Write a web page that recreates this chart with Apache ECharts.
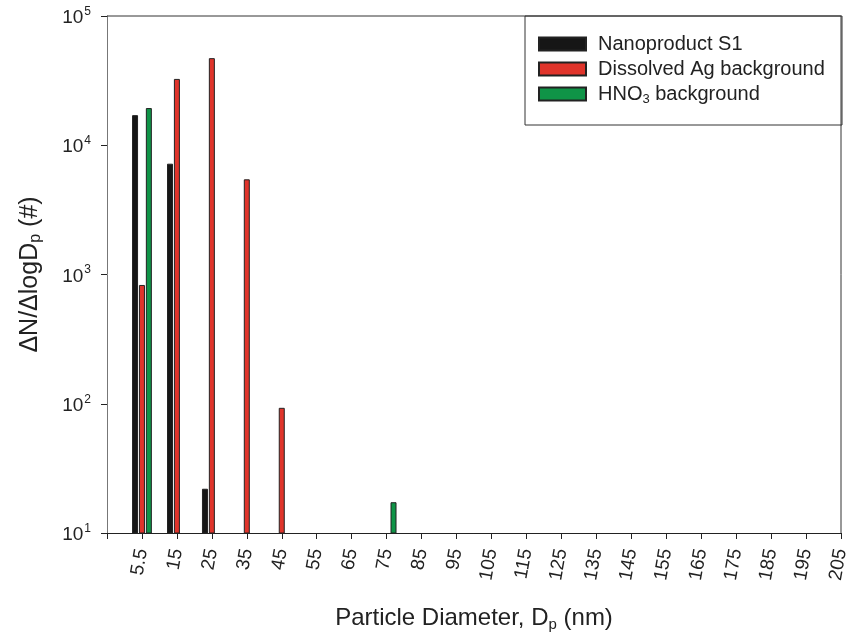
<!DOCTYPE html>
<html>
<head>
<meta charset="utf-8">
<script src="https://cdn.jsdelivr.net/npm/echarts@6/dist/echarts.min.js"></script>
<style>html,body{margin:0;padding:0;background:#fff;}#c{width:851px;height:640px;}</style>
</head>
<body>
<div id="c"></div>
<script>
const sizeLabels = ['5.5','15','25','35','45','55','65','75','85','95','105','115','125','135','145','155','165','175','185','195','205'];
const nanoproductS1 = [17100, 7200, 22, null, null, null, null, null, null, null, null, null, null, null, null, null, null, null, null, null, null];
const dissolvedAg = [830, 32600, 47200, 5450, 93, null, null, null, null, null, null, null, null, null, null, null, null, null, null, null, null];
const hno3Background = [19400, null, null, null, null, null, null, 17.3, null, null, null, null, null, null, null, null, null, null, null, null, null];
const yTickValues = [10, 100, 1000, 10000, 100000];

const chart = echarts.init(document.getElementById('c'), null, {renderer: 'canvas'});
const font = 'Liberation Sans, Arial, sans-serif';
const axisCats = [''].concat(sizeLabels);
const pad = arr => [null].concat(arr);

function mkSeries(name, data, color) {
  return {
    name: name, type: 'bar', data: pad(data), barWidth: 6, barGap: '15%',
    itemStyle: {color: color, borderColor: '#222', borderWidth: 1},
    clip: true
  };
}

chart.setOption({
  animation: false,
  backgroundColor: '#fff',
  grid: {left: 107, right: 10, top: 16, bottom: 107, show: false, containLabel: false, outerBoundsMode: 'none'},
  xAxis: {
    type: 'category', data: axisCats, boundaryGap: false,
    axisLine: {lineStyle: {color: '#222', width: 1}},
    axisTick: {length: 6, lineStyle: {color: '#222'}, interval: 0},
    axisLabel: {interval: 0, rotate: 80, fontFamily: font, fontSize: 19, color: '#222', margin: 16, hideOverlap: false},
    name: 'Particle Diameter, D{sub|p} (nm)', nameLocation: 'middle', nameGap: 72,
    nameTextStyle: {fontFamily: font, fontSize: 24, color: '#222',
      rich: {sub: {fontSize: 15, fontFamily: font, color: '#222', padding: [12, 0, 0, 0]}}},
    splitLine: {show: false}
  },
  yAxis: {
    type: 'log', logBase: 10, min: 10, max: 100000,
    axisLine: {show: true, lineStyle: {color: '#777', width: 1}},
    axisTick: {show: true, length: 6, inside: false, lineStyle: {color: '#222'}},
    minorTick: {show: false},
    splitLine: {show: false},
    axisLabel: {
      fontFamily: font, fontSize: 19, color: '#222', margin: 16,
      formatter: function (v) {
        const e = Math.round(Math.log10(v));
        return '{b|10}{sup|' + e + '}';
      },
      rich: {
        b: {fontFamily: font, fontSize: 19, color: '#222', padding: [4, 0, 0, 0]},
        sup: {fontFamily: font, fontSize: 12, color: '#222', padding: [0, 0, 9, 1]}
      }
    },
    name: '\u0394N/\u0394logD{sub|p} (#)', nameLocation: 'middle', nameGap: 63, nameRotate: 90,
    nameTextStyle: {fontFamily: font, fontSize: 25, color: '#222',
      rich: {sub: {fontSize: 16, fontFamily: font, color: '#222', padding: [12, 0, 0, 0]}}}
  },
  legend: {
    orient: 'vertical', left: 533, top: 29, itemWidth: 47, itemHeight: 13, itemGap: 5,
    icon: 'rect',
    textStyle: {fontFamily: font, fontSize: 20, color: '#222', padding: [0, 0, 0, 7],
      rich: {sub: {fontSize: 13, fontFamily: font, color: '#222', padding: [10, 0, 0, 0]}}},
    formatter: function (n) {
      if (n === 'HNO3 background') return 'HNO{sub|3} background';
      return n;
    },
    data: ['Nanoproduct S1', 'Dissolved Ag background', 'HNO3 background']
  },
  graphic: [
    {type: 'line', shape: {x1: 107, y1: 16, x2: 841, y2: 16}, style: {stroke: '#333', lineWidth: 1}, z: 10},
    {type: 'line', shape: {x1: 841, y1: 16, x2: 841, y2: 533}, style: {stroke: '#333', lineWidth: 1}, z: 10},
    {type: 'rect', shape: {x: 525, y: 16, width: 317, height: 109}, style: {fill: '#fff', stroke: '#333', lineWidth: 1}, z: 0}
  ],
  series: [
    mkSeries('Nanoproduct S1', nanoproductS1, '#161616'),
    mkSeries('Dissolved Ag background', dissolvedAg, '#e0342b'),
    mkSeries('HNO3 background', hno3Background, '#0f9447')
  ]
});
</script>
</body>
</html>
